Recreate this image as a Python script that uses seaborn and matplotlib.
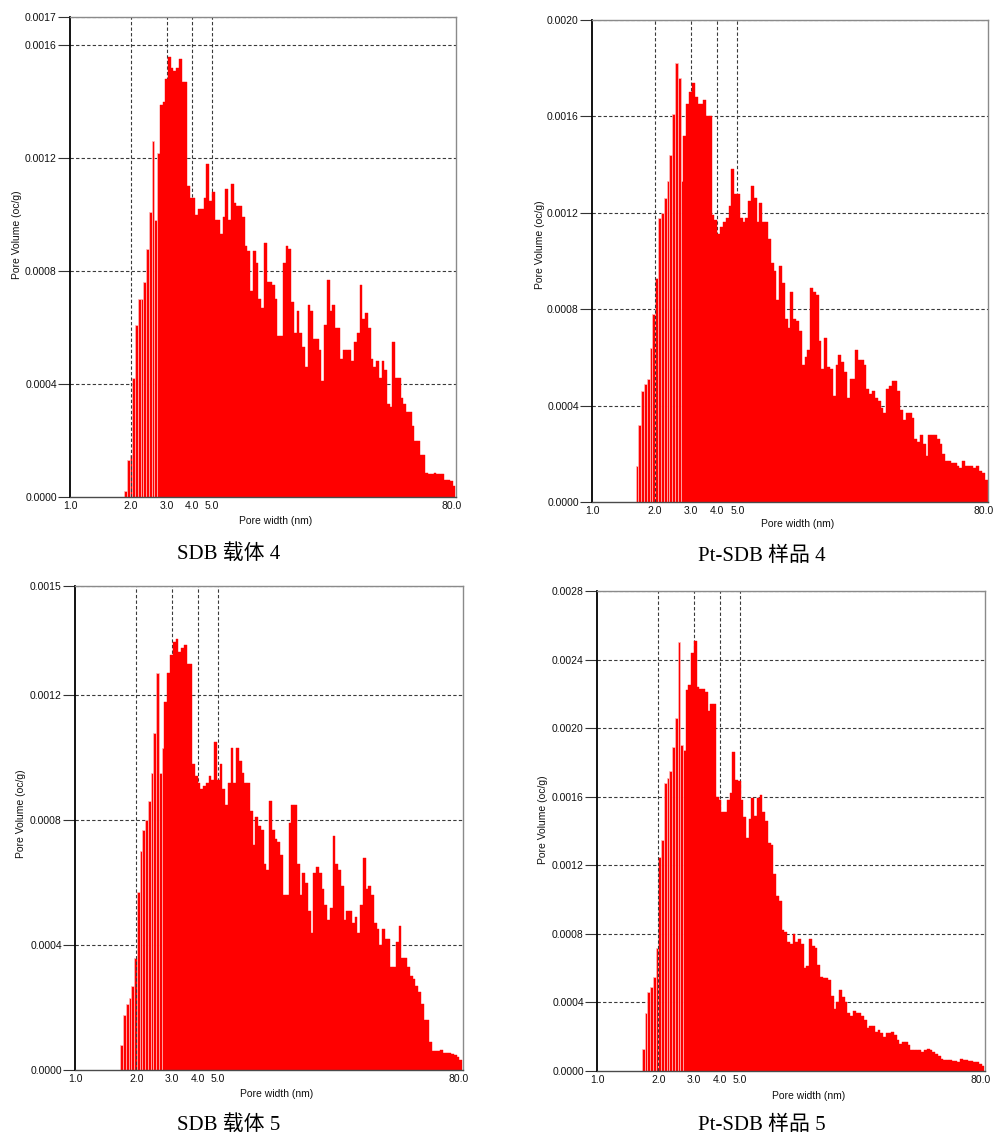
import numpy as np
import pandas as pd
import matplotlib
matplotlib.use("Agg")
import matplotlib.pyplot as plt
import matplotlib.transforms as mtransforms
import seaborn as sns

# ---------------- data ----------------
panel_titles = ["SDB 载体 4", "Pt-SDB 样品 4", "SDB 载体 5", "Pt-SDB 样品 5"]
x_tick_values = [1.0, 2.0, 3.0, 4.0, 5.0, 80.0]
x_tick_labels = ["1.0", "2.0", "3.0", "4.0", "5.0", "80.0"]
marked_widths = [2.0, 3.0, 4.0, 5.0]

# pore-width range (nm) covered by each DFT distribution (log-spaced bins)
sdb4_width_range = (1.85, 79.5)
ptsdb4_width_range = (1.62, 79.6)
sdb5_width_range = (1.67, 79.2)
ptsdb5_width_range = (1.66, 79.5)

sdb4_volume = [
    0.00002, 0.00013, 0.00015, 0.00042, 0.00061, 0.00070, 0.00070, 0.00076, 0.00088, 0.00101,
    0.00126, 0.00098, 0.00122, 0.00139, 0.00140, 0.00148, 0.00156, 0.00152, 0.00151, 0.00152,
    0.00155, 0.00147, 0.00147, 0.00110, 0.00106, 0.00106, 0.00100, 0.00102, 0.00102, 0.00106,
    0.00118, 0.00105, 0.00108, 0.00098, 0.00098, 0.00093, 0.00099, 0.00109, 0.00098, 0.00111,
    0.00104, 0.00103, 0.00103, 0.00099, 0.00089, 0.00087, 0.00073, 0.00087, 0.00083, 0.00070,
    0.00067, 0.00090, 0.00076, 0.00076, 0.00075, 0.00070, 0.00057, 0.00057, 0.00083, 0.00089,
    0.00088, 0.00069, 0.00058, 0.00066, 0.00058, 0.00053, 0.00046, 0.00068, 0.00066, 0.00056,
    0.00056, 0.00052, 0.00041, 0.00061, 0.00077, 0.00066, 0.00068, 0.00060, 0.00060, 0.00049,
    0.00052, 0.00052, 0.00052, 0.00048, 0.00055, 0.00058, 0.00075, 0.00063, 0.00065, 0.00060,
    0.00049, 0.00046, 0.00048, 0.00042, 0.00048, 0.00045, 0.00033, 0.00032, 0.00055, 0.00042,
    0.00042, 0.00035, 0.00033, 0.00030, 0.00030, 0.00025, 0.00020, 0.00020, 0.00015, 0.00015,
    0.000085, 0.00008, 0.00008, 0.000085, 0.00008, 0.00008, 0.00008, 0.00006, 0.00006, 0.000055,
    0.00004,
]

ptsdb4_volume = [
    0.00015, 0.00032, 0.00046, 0.00049, 0.00051, 0.00064, 0.00078, 0.00093, 0.00118, 0.00120,
    0.00126, 0.00133, 0.00144, 0.00161, 0.00182, 0.00176, 0.00133, 0.00152, 0.00165, 0.00170,
    0.00174, 0.00168, 0.00165, 0.00165, 0.00167, 0.00160, 0.00160, 0.00119, 0.00117, 0.00111,
    0.00114, 0.00116, 0.00118, 0.00123, 0.00138, 0.00128, 0.00128, 0.00118, 0.00116, 0.00118,
    0.00125, 0.00131, 0.00126, 0.00116, 0.00124, 0.00116, 0.00116, 0.00109, 0.00099, 0.00096,
    0.00084, 0.00098, 0.00091, 0.00076, 0.00072, 0.00087, 0.00076, 0.00075, 0.00071, 0.00057,
    0.00060, 0.00063, 0.00089, 0.00087, 0.00086, 0.00067, 0.00055, 0.00068, 0.00056, 0.00055,
    0.00044, 0.00057, 0.00061, 0.00058, 0.00054, 0.00043, 0.00051, 0.00051, 0.00063, 0.00059,
    0.00059, 0.00057, 0.00047, 0.00045, 0.00046, 0.00043, 0.00042, 0.00039, 0.00037, 0.00047,
    0.00048, 0.00050, 0.00050, 0.00046, 0.00038, 0.00034, 0.00037, 0.00037, 0.00035, 0.00026,
    0.00025, 0.00028, 0.00024, 0.00019, 0.00028, 0.00028, 0.00028, 0.00026, 0.00024, 0.00020,
    0.00017, 0.00017, 0.00016, 0.00016, 0.00015, 0.00014, 0.00017, 0.00015, 0.00015, 0.00015,
    0.00014, 0.00015, 0.00013, 0.00012, 0.00009,
]

sdb5_volume = [
    0.00008, 0.000175, 0.00021, 0.00023, 0.00027, 0.00036, 0.00057, 0.00070, 0.00077, 0.00080,
    0.00086, 0.00095, 0.00108, 0.00127, 0.00095, 0.00103, 0.00118, 0.00127, 0.00133, 0.00137,
    0.00138, 0.00134, 0.00135, 0.00136, 0.00130, 0.00130, 0.00098, 0.00094, 0.00092, 0.00090,
    0.00091, 0.00092, 0.00094, 0.00093, 0.00105, 0.00093, 0.00098, 0.00090, 0.00085, 0.00092,
    0.00103, 0.00092, 0.00103, 0.00099, 0.00095, 0.00092, 0.00092, 0.00083, 0.00072, 0.00081,
    0.00078, 0.00077, 0.00066, 0.00064, 0.00086, 0.00077, 0.00074, 0.00073, 0.00069, 0.00056,
    0.00056, 0.00079, 0.00085, 0.00085, 0.00066, 0.00056, 0.00063, 0.00060, 0.00051, 0.00044,
    0.00063, 0.00065, 0.00063, 0.00058, 0.00053, 0.00048, 0.00052, 0.00075, 0.00066, 0.00064,
    0.00059, 0.00048, 0.00051, 0.00051, 0.00047, 0.00049, 0.00044, 0.00053, 0.00068, 0.00058,
    0.00059, 0.00056, 0.00047, 0.00045, 0.00040, 0.00045, 0.00042, 0.00042, 0.00033, 0.00033,
    0.00041, 0.00046, 0.00036, 0.00036, 0.00033, 0.00030, 0.00029, 0.00027, 0.00025, 0.00021,
    0.00016, 0.00016, 0.00009, 0.00006, 0.00006, 0.00006, 0.000064, 0.000055, 0.000053, 0.000053,
    0.00005, 0.000048, 0.000042, 0.000032,
]

ptsdb5_volume = [
    0.00013, 0.00034, 0.00046, 0.00049, 0.00055, 0.00072, 0.00125, 0.00135, 0.00168, 0.00171,
    0.00175, 0.00189, 0.00206, 0.00250, 0.00190, 0.00187, 0.00222, 0.00225, 0.00244, 0.00251,
    0.00224, 0.00223, 0.00223, 0.00221, 0.00210, 0.00214, 0.00214, 0.00160, 0.00158, 0.00151,
    0.00151, 0.00158, 0.00162, 0.00186, 0.00170, 0.00169, 0.00158, 0.00148, 0.00136, 0.00147,
    0.00159, 0.00149, 0.00159, 0.00161, 0.00151, 0.00146, 0.00133, 0.00132, 0.00115, 0.00102,
    0.00099, 0.00082, 0.00081, 0.00075, 0.00074, 0.00080, 0.00075, 0.00077, 0.00074, 0.00060,
    0.00061, 0.00077, 0.00073, 0.00072, 0.00062, 0.00055, 0.00054, 0.00054, 0.00053, 0.00044,
    0.00036, 0.00040, 0.00047, 0.00043, 0.00040, 0.00034, 0.00032, 0.00035, 0.00034, 0.00034,
    0.00032, 0.00030, 0.00025, 0.00026, 0.00026, 0.00023, 0.00024, 0.00022, 0.00020, 0.00022,
    0.00022, 0.00023, 0.00021, 0.00018, 0.00016, 0.00017, 0.00017, 0.00015, 0.00012, 0.00012,
    0.00012, 0.00012, 0.00011, 0.00012, 0.00013, 0.00012, 0.00011, 0.00010, 0.000086, 0.00007,
    0.000063, 0.000063, 0.000063, 0.000058, 0.000058, 0.000052, 0.00007, 0.000063, 0.000063, 0.00006,
    0.000058, 0.000052, 0.000054, 0.000038, 0.00003,
]

sdb4_yticks = [0.0, 0.0004, 0.0008, 0.0012, 0.0016, 0.0017]
sdb4_ylabels = ["0.0000", "0.0004", "0.0008", "0.0012", "0.0016", "0.0017"]
ptsdb4_yticks = [0.0, 0.0004, 0.0008, 0.0012, 0.0016, 0.0020]
ptsdb4_ylabels = ["0.0000", "0.0004", "0.0008", "0.0012", "0.0016", "0.0020"]
sdb5_yticks = [0.0, 0.0004, 0.0008, 0.0012, 0.00155]
sdb5_ylabels = ["0.0000", "0.0004", "0.0008", "0.0012", "0.0015"]
ptsdb5_yticks = [0.0, 0.0004, 0.0008, 0.0012, 0.0016, 0.0020, 0.0024, 0.0028]
ptsdb5_ylabels = ["0.0000", "0.0004", "0.0008", "0.0012", "0.0016", "0.0020", "0.0024", "0.0028"]

# ---------------- style ----------------
sns.set_theme(style="white")
plt.rcParams["font.family"] = ["Liberation Sans", "DejaVu Sans"]

W, H = 994, 1137
fig = plt.figure(figsize=(W / 100, H / 100), dpi=100)
fig.patch.set_facecolor("white")

# axes boxes in pixels: left, top, right, bottom
boxes = [(70, 17, 456, 497), (592, 20, 988, 502), (75, 586, 463, 1070), (597, 591, 985, 1071)]
ranges = [sdb4_width_range, ptsdb4_width_range, sdb5_width_range, ptsdb5_width_range]
volumes = [sdb4_volume, ptsdb4_volume, sdb5_volume, ptsdb5_volume]
yticks = [sdb4_yticks, ptsdb4_yticks, sdb5_yticks, ptsdb5_yticks]
ylabels = [sdb4_ylabels, ptsdb4_ylabels, sdb5_ylabels, ptsdb5_ylabels]
ylabel_pos = [(-0.124, 0.546), (-0.119, 0.533), (-0.126, 0.529), (-0.126, 0.523)]
xlabel_pos = [(0.534, -0.040), (0.52, -0.035), (0.52, -0.039), (0.545, -0.042)]
caption_pos = [(229, 554), (762, 556), (229, 1125), (762, 1125)]

grid_kw = dict(color="#3a3a3a", lw=0.8, ls=(0, (3, 2)))

for i in range(4):
    l, t, r, b = boxes[i]
    ax = fig.add_axes([l / W, 1 - b / H, (r - l) / W, (b - t) / H])
    lo, hi = ranges[i]
    vol = np.array(volumes[i])
    edges = np.geomspace(lo, hi, len(vol) + 1)
    centers = np.sqrt(edges[:-1] * edges[1:])
    df = pd.DataFrame({"pore_width": centers, "pore_volume": vol})
    sns.histplot(data=df, x="pore_width", weights="pore_volume",
                 bins=np.log10(edges).tolist(),
                 log_scale=True, stat="count", color="#ff0000", alpha=1,
                 edgecolor="#ff0000", linewidth=0.3, ax=ax, zorder=2)
    for p in ax.patches:
        if p.get_x() + p.get_width() <= 2.8:
            p.set_edgecolor("#ffbcbc")
            p.set_linewidth(0.5)

    ax.set_xlim(1.0, 80.0)
    ax.set_ylim(0, yticks[i][-1])
    ax.xaxis.set_minor_locator(matplotlib.ticker.NullLocator())
    ax.set_xticks(x_tick_values)
    ax.set_xticklabels(x_tick_labels)
    ax.set_yticks(yticks[i])
    ax.set_yticklabels(ylabels[i])

    for yv in yticks[i][1:]:
        ax.axhline(yv, zorder=1, **grid_kw)
    for xv in marked_widths:
        ax.axvline(xv, zorder=3 if xv == 2.0 else 1, **grid_kw)

    ax.set_facecolor("white")
    for side in ["top", "right"]:
        ax.spines[side].set_color("#8a8a8a")
        ax.spines[side].set_linewidth(1.0)
    ax.spines["bottom"].set_color("#4a4a4a")
    ax.spines["bottom"].set_linewidth(1.0)
    ax.spines["left"].set_color("black")
    ax.spines["left"].set_linewidth(1.3)
    for s in ax.spines.values():
        s.set_zorder(4)

    ax.tick_params(axis="y", direction="out", length=8.5, width=0.8, color="#333333",
                   labelsize=7.5, pad=1, labelcolor="#111111", left=True)
    ax.tick_params(axis="x", length=0, pad=3, labelsize=7.5, labelcolor="#111111", bottom=True)

    # nudge the last x tick label ("80.0") slightly left so it stays inside the figure
    last = ax.get_xticklabels()[-1]
    last.set_transform(last.get_transform() +
                       mtransforms.ScaledTranslation(-4 / 100, 0, fig.dpi_scale_trans))

    ax.set_ylabel("Pore Volume (oc/g)", fontsize=7.5, color="#111111")
    ax.set_xlabel("Pore width (nm)", fontsize=7.5, color="#111111")
    ax.yaxis.set_label_coords(*ylabel_pos[i])
    ax.xaxis.set_label_coords(*xlabel_pos[i])
    ax.grid(False)

    cx, cy = caption_pos[i]
    fig.text(cx / W, 1 - cy / H, panel_titles[i], ha="center", va="center",
             fontsize=15, color="black", family=["Liberation Serif", "Noto Sans CJK SC"])

fig.savefig("out.png", dpi=100, facecolor="white")
